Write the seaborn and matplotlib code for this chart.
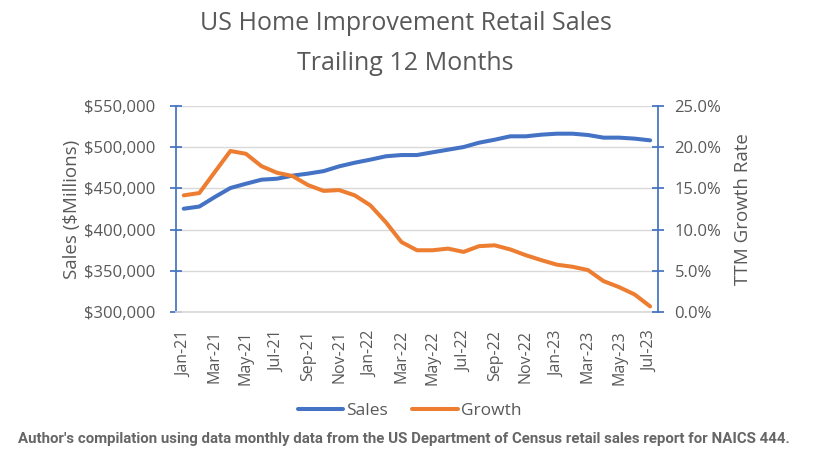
import pandas as pd
import numpy as np
import matplotlib
matplotlib.use("Agg")
import matplotlib.pyplot as plt
import seaborn as sns
from matplotlib.ticker import FuncFormatter, FixedLocator
from matplotlib.lines import Line2D

# Data
months = ["Jan-21", "Feb-21", "Mar-21", "Apr-21", "May-21", "Jun-21", "Jul-21", "Aug-21",
          "Sep-21", "Oct-21", "Nov-21", "Dec-21", "Jan-22", "Feb-22", "Mar-22", "Apr-22",
          "May-22", "Jun-22", "Jul-22", "Aug-22", "Sep-22", "Oct-22", "Nov-22", "Dec-22",
          "Jan-23", "Feb-23", "Mar-23", "Apr-23", "May-23", "Jun-23", "Jul-23"]
sales = [425400, 428000, 439600, 450500, 455700, 460600, 461800, 465500,
         468000, 471000, 476800, 481200, 484900, 489000, 490500, 490500,
         493800, 497000, 500200, 505500, 509100, 513200, 513200, 515200,
         516400, 516400, 514800, 511600, 511600, 510400, 508300]
growth = [14.16, 14.44, 17.0, 19.54, 19.2, 17.7, 16.9, 16.5,
          15.4, 14.7, 14.8, 14.16, 12.95, 10.9, 8.5, 7.5,
          7.5, 7.7, 7.3, 8.0, 8.1, 7.6, 6.9, 6.3,
          5.75, 5.5, 5.1, 3.76, 3.03, 2.14, 0.69]

df = pd.DataFrame({"idx": range(len(months)), "month": months,
                   "Sales": sales, "Growth": growth})

sns.set_theme(style="white")
plt.rcParams['font.family'] = ['Open Sans', 'DejaVu Sans']

blue = "#4472C4"
orange = "#ED7D31"
txt = "#595959"

fig = plt.figure(figsize=(8.36, 4.51), dpi=100)
ax = fig.add_axes([0.2105, 0.308, 0.5765, 0.457])
ax2 = ax.twinx()

sns.lineplot(data=df, x="idx", y="Sales", ax=ax, color=blue, linewidth=2.9, zorder=3)
sns.lineplot(data=df, x="idx", y="Growth", ax=ax2, color=orange, linewidth=2.9, zorder=3)

ax.set_xlim(-0.5, len(months) - 0.5)
ax.set_ylim(300000, 550000)
ax2.set_ylim(0, 25)
ax.set_yticks(np.arange(300000, 550001, 50000))
ax2.set_yticks(np.arange(0, 25.1, 5))
ax.yaxis.set_major_formatter(FuncFormatter(lambda v, p: f"${v:,.0f}"))
ax2.yaxis.set_major_formatter(FuncFormatter(lambda v, p: f"{v:.1f}%"))

ax.yaxis.grid(True, color="#D9D9D9", linewidth=1)
ax.set_axisbelow(True)

# x ticks: labels every other month, tick marks between categories
label_pos = list(range(0, len(months), 2))
ax.set_xticks(label_pos)
ax.set_xticklabels([months[i] for i in label_pos], rotation=90)
ax.xaxis.set_minor_locator(FixedLocator(np.arange(-0.5, len(months), 2)))
ax.tick_params(axis="x", which="major", length=0, pad=13, labelsize=11.5, labelcolor=txt)
ax.tick_params(axis="x", which="minor", length=5, color="#D9D9D9", direction="out")

for a in (ax, ax2):
    for s in a.spines.values():
        s.set_visible(False)
ax.spines["left"].set_visible(True)
ax.spines["left"].set_color(blue)
ax.spines["bottom"].set_visible(True)
ax.spines["bottom"].set_color("#D9D9D9")
ax2.spines["right"].set_visible(True)
ax2.spines["right"].set_color(blue)

ax.tick_params(axis="y", length=8, direction="inout", color=blue, labelsize=12,
               labelcolor=txt, pad=11)
ax2.tick_params(axis="y", length=8, direction="inout", color=blue, labelsize=12,
                labelcolor=txt, pad=8)

ax.set_xlabel("")
ax.set_ylabel("Sales ($Millions)", fontsize=13.5, color=txt, labelpad=2)
ax2.set_ylabel("TTM Growth Rate", fontsize=13.5, color=txt, labelpad=9)

fig.text(0.485, 0.975, "US Home Improvement Retail Sales\nTrailing 12 Months",
         ha="center", va="top", fontsize=18, color=txt, linespacing=1.8)

handles = [Line2D([], [], color=blue, linewidth=2.9),
           Line2D([], [], color=orange, linewidth=2.9)]
fig.legend(handles, ["Sales", "Growth"], loc="center", bbox_to_anchor=(0.49, 0.088),
           ncol=2, frameon=False, fontsize=12.5, labelcolor=txt, handlelength=2.6,
           handletextpad=0.2, columnspacing=1.4)

fig.text(0.022, 0.012, "Author's compilation using data monthly data from the US Department of Census retail sales report for NAICS 444.",
         ha="left", va="bottom", fontsize=10.8, fontweight="bold", color="#666666",
         family=["Roboto", "DejaVu Sans"])

fig.savefig("out.png", dpi=100)
